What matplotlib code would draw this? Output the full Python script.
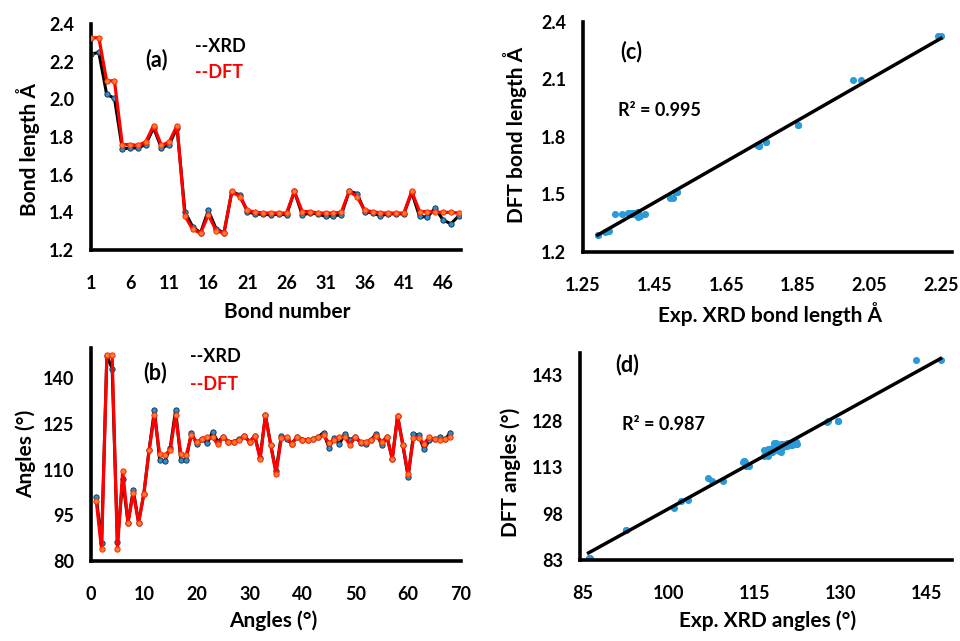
import matplotlib
matplotlib.use("Agg")
import matplotlib.pyplot as plt
import numpy as np

plt.rcParams['font.family'] = ['Lato', 'DejaVu Sans']
plt.rcParams['font.weight'] = 'bold'

# ---------------- data ----------------
bond_xrd = [2.240, 2.249, 2.027, 2.005, 1.737, 1.742, 1.742, 1.760, 1.849, 1.742,
            1.760, 1.849, 1.404, 1.323, 1.291, 1.410, 1.312, 1.291, 1.509, 1.493,
            1.403, 1.392, 1.389, 1.387, 1.390, 1.387, 1.511, 1.387, 1.396, 1.392,
            1.378, 1.382, 1.387, 1.511, 1.500, 1.404, 1.396, 1.382, 1.392, 1.392,
            1.392, 1.506, 1.378, 1.375, 1.422, 1.360, 1.339, 1.381]
bond_dft = [2.325, 2.328, 2.098, 2.098, 1.760, 1.760, 1.755, 1.774, 1.861, 1.755,
            1.774, 1.861, 1.381, 1.310, 1.289, 1.387, 1.303, 1.289, 1.511, 1.484,
            1.410, 1.401, 1.396, 1.396, 1.396, 1.396, 1.511, 1.404, 1.404, 1.396,
            1.396, 1.396, 1.400, 1.511, 1.484, 1.410, 1.404, 1.396, 1.396, 1.396,
            1.396, 1.511, 1.404, 1.404, 1.400, 1.400, 1.400, 1.396]
bond_ticks = [1, 6, 11, 16, 21, 26, 31, 36, 41, 46]

angle_xrd = [100.9, 86.0, 147.5, 143.2, 86.3, 106.8, 92.6, 103.4, 92.6, 102.1,
             116.6, 129.6, 113.1, 113.0, 117.3, 129.6, 113.1, 113.3, 122.2, 118.4,
             120.0, 118.8, 122.4, 119.2, 120.8, 119.2, 119.2, 120.0, 121.0, 119.2,
             121.0, 114.0, 127.9, 118.1, 109.5, 121.2, 120.0, 118.6, 120.8, 119.9,
             119.7, 120.0, 120.8, 122.2, 117.3, 120.3, 118.4, 121.9, 119.7, 120.8,
             118.8, 118.6, 119.9, 121.9, 118.1, 120.8, 113.5, 127.7, 118.1, 107.6,
             121.6, 121.4, 116.7, 119.7, 120.0, 120.6, 120.0, 122.2]
angle_dft = [99.7, 83.8, 147.7, 147.7, 83.8, 109.6, 92.6, 102.4, 92.6, 102.1,
             116.6, 127.9, 115.1, 114.8, 116.6, 127.9, 115.1, 114.8, 121.3, 119.2,
             120.0, 120.8, 120.6, 118.4, 120.8, 119.2, 119.0, 119.7, 121.0, 119.2,
             121.0, 113.5, 127.9, 118.1, 108.7, 120.3, 120.6, 118.6, 120.8, 119.9,
             119.7, 120.0, 120.8, 121.3, 118.8, 119.9, 120.8, 120.8, 118.1, 120.8,
             119.2, 119.2, 119.9, 121.0, 119.2, 120.8, 113.5, 127.7, 118.1, 108.5,
             120.3, 120.3, 118.6, 120.6, 120.0, 119.9, 120.0, 120.6]

r2_bond_text = "R² = 0.995"
r2_angle_text = "R² = 0.987"

# ---------------- figure ----------------
W, H = 960, 641
fig = plt.figure(figsize=(W / 100, H / 100), dpi=100)

TICK_FS = 13
LAB_FS = 15


def px_axes(left, top, right, bottom):
    return fig.add_axes([left / W, 1 - bottom / H, (right - left) / W, (bottom - top) / H])


def style(ax):
    for s in ('top', 'right'):
        ax.spines[s].set_visible(False)
    for s in ('left', 'bottom'):
        ax.spines[s].set_linewidth(2.6)
        ax.spines[s].set_color('black')
    ax.tick_params(length=0, labelsize=TICK_FS)
    ax.tick_params(axis='x', pad=18)
    ax.tick_params(axis='y', pad=12)
    for lab in ax.get_xticklabels() + ax.get_yticklabels():
        lab.set_fontweight('bold')


def labels(ax, xtext, xpos, ytext, ypos):
    ax.set_xlabel(xtext, fontsize=LAB_FS, fontweight='bold')
    ax.xaxis.label.set_va('center')
    ax.xaxis.set_label_coords(xpos[0] / W, 1 - xpos[1] / H, transform=fig.transFigure)
    ax.set_ylabel(ytext, fontsize=LAB_FS, fontweight='bold')
    ax.yaxis.label.set_va('center')
    ax.yaxis.set_label_coords(ypos[0] / W, 1 - ypos[1] / H, transform=fig.transFigure)


XRD_LINE = 'black'
XRD_FACE = '#2b8fd0'
DFT_LINE = '#ff0000'
DFT_FACE = '#ff7a30'
SC_COLOR = '#2a9ad8'

# (a) bond length vs bond number
axa = px_axes(91, 24, 461, 250)
bx = np.arange(1, len(bond_xrd) + 1)
axa.plot(bx, bond_xrd, color=XRD_LINE, lw=2.2, marker='o', ms=3.8,
         mfc=XRD_FACE, mec='#1a3a55', mew=0.7, zorder=2)
axa.plot(bx, bond_dft, color=DFT_LINE, lw=2.3, marker='o', ms=3.8,
         mfc=DFT_FACE, mec='#ff2a00', mew=0.7, zorder=3)
axa.set_xlim(1, 48.3)
axa.set_ylim(1.2, 2.4)
axa.set_xticks(bond_ticks)
axa.set_xticklabels([str(t) for t in bond_ticks])
axa.set_yticks(np.arange(1.2, 2.41, 0.2))
axa.set_yticklabels([f"{v:.1f}" for v in np.arange(1.2, 2.41, 0.2)])
style(axa)
labels(axa, "Bond number", (287, 312), "Bond length Å", (28, 150))
fig.text(156 / W, 1 - 60 / H, "(a)", fontsize=15.5, fontweight='bold', ha='center', va='center')
fig.text(195 / W, 1 - 46 / H, "--XRD", fontsize=13, fontweight='bold', ha='left', va='center', color='black')
fig.text(195 / W, 1 - 73 / H, "--DFT", fontsize=13, fontweight='bold', ha='left', va='center', color='#ff0000')

# (b) angles
axb = px_axes(91, 348, 461, 561)
ax_ = np.arange(1, len(angle_xrd) + 1)
axb.plot(ax_, angle_xrd, color=XRD_LINE, lw=2.2, marker='o', ms=3.8,
         mfc=XRD_FACE, mec='#1a3a55', mew=0.7, zorder=2)
axb.plot(ax_, angle_dft, color=DFT_LINE, lw=2.3, marker='o', ms=3.8,
         mfc=DFT_FACE, mec='#ff2a00', mew=0.7, zorder=3)
axb.set_xlim(0, 70)
axb.set_ylim(80, 150)
axb.set_xticks(np.arange(0, 71, 10))
axb.set_yticks(np.arange(80, 141, 15))
style(axb)
labels(axb, "Angles (°)", (273, 621), "Angles (°)", (26, 454))
fig.text(155 / W, 1 - 373 / H, "(b)", fontsize=15.5, fontweight='bold', ha='center', va='center')
fig.text(190 / W, 1 - 357 / H, "--XRD", fontsize=13, fontweight='bold', ha='left', va='center', color='black')
fig.text(190 / W, 1 - 385 / H, "--DFT", fontsize=13, fontweight='bold', ha='left', va='center', color='#ff0000')

# (c) bond length correlation
axc = px_axes(583, 22, 952, 252)
xb = np.array(bond_xrd)
yb = np.array(bond_dft)
axc.scatter(xb, yb, s=26, color=SC_COLOR, zorder=2, linewidths=0)
pb = np.polyfit(xb, yb, 1)
xl = np.array([xb.min(), xb.max()])
axc.plot(xl, np.polyval(pb, xl), color='black', lw=2.5, zorder=3)
axc.set_xlim(1.25, 2.28)
axc.set_ylim(1.2, 2.4)
axc.set_xticks(np.arange(1.25, 2.26, 0.2))
axc.set_xticklabels([f"{v:.2f}" for v in np.arange(1.25, 2.26, 0.2)])
axc.set_yticks(np.arange(1.2, 2.41, 0.3))
axc.set_yticklabels([f"{v:.1f}" for v in np.arange(1.2, 2.41, 0.3)])
style(axc)
labels(axc, "Exp. XRD bond length Å", (770, 314), "DFT bond length Å", (515, 135))
fig.text(631 / W, 1 - 52 / H, "(c)", fontsize=15.5, fontweight='bold', ha='center', va='center')
fig.text(618 / W, 1 - 110 / H, r2_bond_text, fontsize=13, fontweight='bold', ha='left', va='center')

# (d) angle correlation
axd = px_axes(580, 353, 952, 560)
xa = np.array(angle_xrd)
ya = np.array(angle_dft)
axd.scatter(xa, ya, s=26, color=SC_COLOR, zorder=2, linewidths=0)
pa = np.polyfit(xa, ya, 1)
xl2 = np.array([xa.min(), xa.max()])
axd.plot(xl2, np.polyval(pa, xl2), color='black', lw=2.5, zorder=3)
axd.set_xlim(84.5, 149.5)
axd.set_ylim(83, 150)
axd.set_xticks(np.arange(85, 146, 15))
axd.set_yticks(np.arange(83, 144, 15))
style(axd)
labels(axd, "Exp. XRD angles (°)", (768, 621), "DFT angles (°)", (511, 472))
fig.text(627 / W, 1 - 365 / H, "(d)", fontsize=15.5, fontweight='bold', ha='center', va='center')
fig.text(622 / W, 1 - 424 / H, r2_angle_text, fontsize=13, fontweight='bold', ha='left', va='center')

fig.savefig("out.png", dpi=100)
